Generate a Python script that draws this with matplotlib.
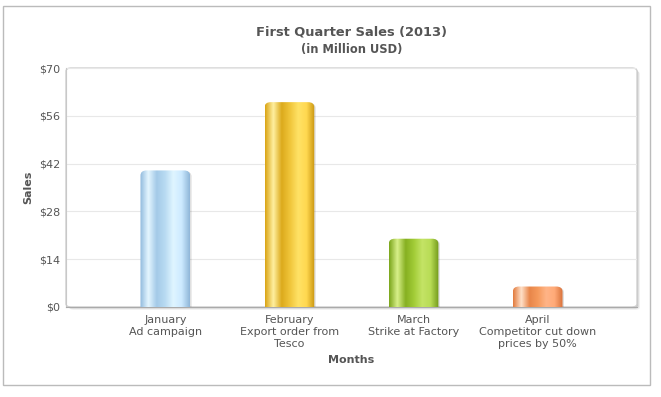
import numpy as np
import matplotlib
matplotlib.use("Agg")
import matplotlib.pyplot as plt
from matplotlib.colors import LinearSegmentedColormap
from matplotlib.patches import FancyBboxPatch, Rectangle

# dados do grafico
months = ["January\nAd campaign", "February\nExport order from\nTesco",
          "March\nStrike at Factory", "April\nCompetitor cut down\nprices by 50%"]
sales = [40, 60, 20, 6]
yticks = [0, 14, 28, 42, 56, 70]

# cores do gradiente (esquerda -> direita) de cada barra
bar_colors = [
    ["#8fb9dd", "#e4f6ff", "#a4cae8", "#b8daf2", "#dff5ff", "#cdeaff", "#8fb6d8"],
    ["#d9a314", "#fff0a0", "#dcaa1c", "#f0c53a", "#ffe266", "#ffd850", "#c99510"],
    ["#7aa51a", "#d8f08a", "#86b021", "#a2cc37", "#c4e466", "#b8dc55", "#72991a"],
    ["#e27a3c", "#ffe0c8", "#e8864a", "#f59a5c", "#ffb487", "#ffaa78", "#d8713a"],
]

txt = "#555555"

fig = plt.figure(figsize=(6.61, 3.97), dpi=100)
fig.patch.set_facecolor("white")

# borda externa
fig.add_artist(Rectangle((3 / 661, 1 - 385 / 397), 647 / 661, 379 / 397,
                         transform=fig.transFigure, fill=False,
                         edgecolor="#bbbbbb", linewidth=1))

ax = fig.add_axes([66 / 661, 90 / 397, 571 / 661, 239 / 397])

# sombra da area do grafico
for off, a in [(3, 0.05), (2, 0.08), (1, 0.12)]:
    fig.add_artist(FancyBboxPatch((66 / 661 + off / 661, 90 / 397 - off / 397),
                                  571 / 661, 239 / 397,
                                  boxstyle="round,pad=0,rounding_size=0.008",
                                  transform=fig.transFigure, facecolor="black",
                                  edgecolor="none", alpha=a, zorder=-2))
fig.add_artist(FancyBboxPatch((66 / 661, 90 / 397), 571 / 661, 239 / 397,
                              boxstyle="round,pad=0,rounding_size=0.008",
                              transform=fig.transFigure, facecolor="white",
                              edgecolor="#d0d0d0", linewidth=1, zorder=-1))
ax.set_facecolor("none")

x = np.arange(len(sales))
bars = ax.bar(x, sales, width=0.4, color="none", edgecolor="none", zorder=3)

# gradiente nas barras, com cantos superiores arredondados
grad = np.linspace(0, 1, 256).reshape(1, -1)
for bar, cols in zip(bars, bar_colors):
    cmap = LinearSegmentedColormap.from_list("g", cols)
    x0, w, h = bar.get_x(), bar.get_width(), bar.get_height()
    shape = FancyBboxPatch((x0, -2), w, h + 2,
                           boxstyle="round,pad=0,rounding_size=0.05",
                           mutation_aspect=30, facecolor="none",
                           edgecolor="none", transform=ax.transData)
    ax.add_patch(shape)
    # sombra leve
    sh = FancyBboxPatch((x0 + 0.012, -2), w, h + 2 - 0.3,
                        boxstyle="round,pad=0,rounding_size=0.05",
                        mutation_aspect=30, facecolor="#000000", alpha=0.12,
                        edgecolor="none", zorder=2)
    ax.add_patch(sh)
    im = ax.imshow(grad, extent=[x0, x0 + w, 0, h], aspect="auto",
                   cmap=cmap, zorder=3, interpolation="bilinear")
    im.set_clip_path(shape)

ax.set_xlim(-0.8, 3.8)
ax.set_ylim(0, 70)

ax.set_yticks(yticks)
ax.set_yticklabels(["$" + str(v) for v in yticks])
ax.set_xticks(x)
ax.set_xticklabels(months, linespacing=1.25)
ax.tick_params(axis="both", colors="#888888", labelcolor=txt, labelsize=8)
ax.tick_params(axis="x", length=0, pad=6)
ax.tick_params(axis="y", length=0, pad=4)

ax.grid(axis="y", color="#e8e8e8", linewidth=0.8, zorder=0)
for s in ["top", "right"]:
    ax.spines[s].set_visible(False)
ax.spines["left"].set_color("#c8c8c8")
ax.spines["bottom"].set_color("#aaaaaa")

ax.set_ylabel("Sales", fontsize=8, fontweight="bold", color=txt, labelpad=4)
ax.set_xlabel("Months", fontsize=8, fontweight="bold", color=txt, labelpad=4)

fig.text(352 / 661, 1 - 32 / 397, "First Quarter Sales (2013)", ha="center",
         va="center", fontsize=9.4, fontweight="bold", color=txt)
fig.text(352 / 661, 1 - 50 / 397, "(in Million USD)", ha="center",
         va="center", fontsize=8.3, fontweight="bold", color=txt)

fig.savefig("out.png", dpi=100)
